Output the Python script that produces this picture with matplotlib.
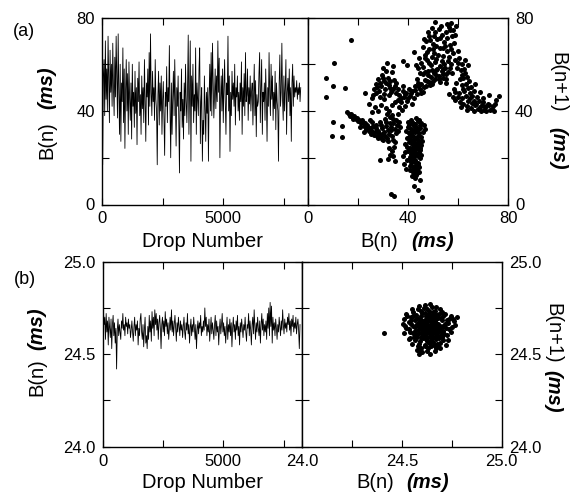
import numpy as np
import matplotlib
matplotlib.use("Agg")
import matplotlib.pyplot as plt

plt.rcParams['font.family'] = ['Liberation Sans', 'DejaVu Sans']

# ---------------- data ----------------
# (a) time series B(n) in ms (drop 0 .. ~8200)
B_a = [48, 17, 55, 62, 38, 70, 45, 58, 40, 72, 52, 35, 66, 48, 60, 42, 69, 50, 38, 63, 46, 72,
       55, 37, 73, 48, 30, 60, 27, 52, 44, 67, 35, 58, 24, 49, 62,
       40, 56, 30, 61, 45, 36, 52, 28, 60, 42, 48, 33, 57, 39, 50,
       25.6, 54, 44, 61, 38, 47, 30, 55, 41, 50, 35, 62, 43, 27, 52,
       46, 58, 34, 65, 42, 73, 48, 38, 57, 44, 50, 36, 62, 45, 40,
       17, 47, 57, 34, 52, 40, 55, 30, 45, 52.6, 38, 21, 48, 42, 59,
       35, 50, 44, 68, 40, 20, 52, 30, 46, 57, 38, 62, 44, 25, 50,
       42, 55, 36, 13.5, 48, 40, 58, 33, 45, 28, 52, 38, 60, 44, 35,
       50, 72.5, 30, 48, 70, 18.5, 55, 42, 60, 35, 47, 40, 67, 30, 52,
       45, 38, 58, 67, 26, 44, 50, 18.5, 36, 30, 55, 42, 27, 48, 39,
       50, 18.5, 46, 60, 40, 65, 38, 69, 52, 37, 46, 58, 41, 55, 44,
       70, 48, 62.6, 20, 45, 55, 40, 58, 35, 50, 62, 44, 30, 52, 47,
       72, 40, 55, 22.7, 48, 38, 57, 45, 52, 42, 60, 34, 50, 46, 55,
       40, 48, 36, 52, 44, 61, 30, 50, 42, 56, 38, 65, 44, 47, 58,
       36, 50, 43, 55, 40, 48, 52, 34, 46, 60, 38, 53, 29, 47, 42,
       44, 56, 65, 35, 50, 62, 30, 48, 44, 52, 36, 58, 45, 27, 50,
       42, 65, 47, 38, 60, 45, 55, 36, 48, 41, 57, 32, 52, 44, 40,
       18.5, 52, 64, 42, 48, 69, 45, 36, 55, 40, 50, 62, 30, 48, 54,
       44, 58, 38, 50, 27, 52, 60, 42, 55, 46, 50, 48, 53, 45, 50, 47, 52, 44, 50]
last_drop_a = 8200

# (b) time series B(n) in ms
B_b = [24.60, 24.73, 24.66, 24.70, 24.58, 24.72, 24.62, 24.68, 24.55, 24.70, 24.64, 24.59, 24.69, 24.53, 24.66, 24.71, 24.60, 24.67, 24.56, 24.64,
       24.42, 24.63, 24.69, 24.60, 24.66,
       24.62, 24.58, 24.68, 24.64, 24.72, 24.63, 24.66, 24.60, 24.70, 24.65, 24.67, 24.61, 24.69, 24.64, 24.66, 24.59, 24.63, 24.68, 24.62, 24.57, 24.65, 24.70, 24.60, 24.66, 24.63, 24.68, 24.55, 24.64, 24.60, 24.69,
       24.72, 24.62, 24.58, 24.66, 24.54, 24.63, 24.70, 24.56, 24.60, 24.53, 24.65, 24.58, 24.71, 24.62, 24.68, 24.57, 24.73, 24.64, 24.70, 24.60, 24.74, 24.66, 24.72, 24.63, 24.69, 24.58, 24.67, 24.71, 24.64, 24.53,
       24.66, 24.70, 24.62, 24.68, 24.60, 24.73, 24.65, 24.69, 24.61, 24.67, 24.58, 24.64, 24.70, 24.63, 24.74, 24.62, 24.68, 24.60, 24.66, 24.71, 24.64, 24.57, 24.67, 24.62, 24.70, 24.65, 24.60, 24.68, 24.63, 24.66,
       24.59, 24.65, 24.70, 24.62, 24.58, 24.67, 24.63, 24.72, 24.61, 24.66, 24.56, 24.64, 24.69, 24.60, 24.66, 24.62, 24.70, 24.64, 24.58, 24.66, 24.53, 24.63, 24.68, 24.61, 24.67, 24.64, 24.71, 24.60, 24.65, 24.62,
       24.68, 24.63, 24.75, 24.65, 24.70, 24.60, 24.66, 24.62, 24.69, 24.57, 24.64, 24.70, 24.61, 24.67, 24.63, 24.58, 24.66, 24.71, 24.60, 24.68, 24.62, 24.65, 24.55, 24.64, 24.69, 24.61, 24.66, 24.72, 24.62, 24.67,
       24.60, 24.65, 24.56, 24.63, 24.70, 24.58, 24.66, 24.62, 24.69, 24.60, 24.67, 24.54, 24.64, 24.70, 24.62, 24.66, 24.58, 24.68, 24.63, 24.71, 24.60, 24.65, 24.55, 24.67, 24.62, 24.69, 24.64, 24.59, 24.66, 24.63,
       24.70, 24.62, 24.57, 24.66, 24.64, 24.72, 24.60, 24.68, 24.63, 24.55, 24.66, 24.70, 24.61, 24.74, 24.65, 24.58, 24.67, 24.62, 24.70, 24.64, 24.60, 24.68, 24.56, 24.66, 24.72, 24.63, 24.69, 24.60, 24.66, 24.62,
       24.68, 24.58, 24.72, 24.64, 24.75, 24.60, 24.78, 24.65, 24.76, 24.56, 24.70, 24.63, 24.67, 24.60, 24.69, 24.64, 24.58, 24.66, 24.62, 24.70, 24.65, 24.60, 24.68, 24.63, 24.74, 24.66, 24.61, 24.69, 24.64, 24.67,
       24.62, 24.70, 24.66, 24.72, 24.63, 24.68, 24.60, 24.69, 24.65, 24.71, 24.62, 24.67, 24.64, 24.70, 24.61, 24.66, 24.69, 24.63, 24.53, 24.66]
last_drop_b = 8180

# (a) return map points (B(n), B(n+1)) grouped by region
map_a_isolated = [(17.3, 70.4), (10.4, 60.4), (7.3, 54.3), (10.0, 50.5), (7.3, 45.8), (14.9, 49.8),
                  (10.0, 35.1), (9.7, 29.2), (13.7, 33.4), (13.7, 28.7), (22.7, 47.6), (28.7, 19.2),
                  (33.0, 4.3), (34.5, 3.6), (45.7, 3.1), (42.4, 7.8), (44.0, 6.2), (38.1, 61.6), (39.4, 59.7)]
map_a_lowband = [(15.5, 39.5), (16.2, 38.6), (17.0, 38.9), (17.8, 37.5), (18.5, 37.8), (19.2, 36.5), (19.8, 35.6),
                 (20.5, 36.2), (21.0, 34.8), (21.8, 35.1), (22.4, 33.6), (23.0, 32.4), (23.5, 34.0), (24.2, 31.5),
                 (24.8, 32.6), (25.3, 30.2), (25.8, 33.5), (26.4, 29.6), (26.8, 31.2), (27.3, 34.2), (27.8, 28.6),
                 (28.3, 30.5), (28.7, 35.4), (29.2, 29.2), (29.6, 32.6), (30.1, 27.8), (30.5, 31.0), (31.0, 33.6),
                 (31.4, 28.4), (31.9, 27.2), (32.3, 30.1), (32.8, 34.8), (33.3, 31.7), (33.7, 29.4), (34.1, 36.6),
                 (34.6, 32.5), (35.0, 30.4), (31.7, 38.6), (32.5, 40.1), (33.4, 38.2), (30.6, 36.6), (25.5, 35.4),
                 (24.6, 36.2), (22.3, 30.9), (20.8, 33.2), (34.8, 26.8), (35.6, 33.8), (36.2, 35.4),
                 (32.3, 24.2), (33.4, 23.1), (34.2, 24.5), (32.8, 21.2), (33.9, 20.6), (34.6, 18.8), (32.1, 19.6),
                 (37.9, 20.8), (38.5, 17.4), (39.2, 15.1), (38.8, 22.3), (39.6, 19.2),
                 (16.8, 37.8), (18.1, 36.4), (19.6, 37.1), (21.4, 36.0), (22.9, 34.7), (24.0, 33.2), (25.1, 31.7),
                 (26.1, 30.8), (27.1, 32.6), (28.0, 31.5), (29.0, 33.9), (30.0, 30.2), (30.9, 29.1), (32.0, 31.9),
                 (33.0, 33.2), (34.0, 34.7), (35.2, 36.2), (29.7, 28.0), (27.5, 29.4), (33.9, 27.8), (31.2, 35.1),
                 (32.7, 37.3), (35.8, 31.6), (36.8, 33.0)]
map_a_column = [(40.1, 35.2), (41.3, 36.1), (42.6, 34.4), (43.8, 35.6), (45.2, 34.9), (46.3, 33.8), (39.8, 33.1),
                (41.0, 32.4), (42.2, 33.7), (43.5, 31.9), (44.7, 32.8), (45.9, 31.2), (40.5, 30.6), (41.7, 29.8),
                (42.9, 30.9), (44.1, 29.4), (45.3, 28.7), (40.9, 28.1), (42.0, 27.4), (43.2, 28.5), (44.4, 26.9),
                (41.4, 25.8), (42.6, 26.3), (43.7, 24.9), (45.0, 25.6), (40.8, 24.1), (41.9, 23.2), (43.1, 23.8),
                (44.2, 22.4), (41.2, 21.6), (42.4, 20.9), (43.5, 21.3), (44.6, 19.8), (40.6, 19.4), (41.8, 18.6),
                (42.9, 19.1), (44.0, 17.6), (41.3, 17.0), (42.5, 16.2), (43.6, 15.4), (40.9, 14.8), (42.1, 13.9),
                (43.2, 12.8), (44.3, 14.1), (41.6, 12.2), (42.8, 11.3), (44.8, 10.6), (43.9, 16.8), (40.3, 26.7),
                (45.6, 27.3), (39.9, 22.8), (44.9, 23.5), (42.3, 31.6), (43.0, 36.8), (41.5, 34.7), (44.5, 36.3),
                (40.7, 16.5), (45.3, 21.2), (39.5, 28.4), (42.7, 14.6),
                (40.4, 33.9), (41.9, 35.0), (43.3, 33.2), (44.9, 34.1), (41.1, 31.1), (42.8, 32.3), (44.3, 30.7),
                (40.7, 29.3), (42.4, 28.9), (43.9, 27.8), (41.1, 26.9), (42.3, 24.7), (43.4, 26.2), (44.6, 24.2),
                (41.6, 22.3), (42.9, 22.1), (44.0, 20.9), (40.9, 20.3), (42.1, 19.7), (43.3, 17.9), (41.9, 15.3),
                (43.0, 16.7), (42.3, 12.7), (43.7, 13.6), (41.0, 18.0), (44.5, 16.0), (46.6, 32.4), (39.2, 31.5),
                (38.7, 26.0), (39.6, 24.5)]
map_a_midband = [(26.5, 49.2), (27.2, 51.5), (27.9, 53.8), (28.4, 48.6), (29.1, 50.9), (29.6, 55.4), (30.2, 52.7),
                 (30.8, 49.5), (31.3, 57.2), (31.9, 54.1), (32.5, 51.3), (33.1, 48.2), (33.6, 56.5), (34.2, 53.4),
                 (34.8, 50.6), (35.3, 47.7), (28.8, 46.1), (30.5, 45.2), (32.2, 46.8), (26.1, 46.9), (25.4, 45.6),
                 (29.9, 58.6), (31.6, 60.4), (33.8, 59.1),
                 (35.8, 44.6), (36.5, 46.9), (37.1, 43.7), (37.8, 48.4), (38.4, 45.8), (39.0, 47.9), (39.7, 44.2),
                 (40.3, 49.3), (40.9, 46.4), (41.6, 48.7), (42.2, 45.5), (42.8, 50.6), (43.4, 47.2), (44.1, 52.1),
                 (44.7, 49.4), (45.3, 51.6), (45.9, 48.3), (46.6, 53.4), (47.2, 50.7), (47.8, 55.2), (48.4, 52.3),
                 (49.1, 54.6), (49.7, 51.4), (50.3, 56.3), (50.9, 53.7), (51.5, 57.8), (52.2, 55.1), (52.8, 52.4),
                 (53.4, 56.9), (54.1, 54.3), (54.7, 58.2), (55.3, 51.8), (36.2, 41.5), (38.9, 42.1), (41.4, 43.2),
                 (37.4, 40.6), (34.6, 43.8), (35.9, 38.9), (33.4, 42.5),
                 (24.3, 43.1), (26.9, 41.6), (29.3, 42.7), (31.0, 41.1), (28.1, 39.8), (25.7, 39.4),
                 (27.6, 50.3), (28.6, 52.1), (30.0, 54.0), (31.0, 51.9), (32.9, 53.0), (34.0, 49.3), (35.0, 52.1),
                 (36.1, 49.6), (37.3, 45.6), (38.7, 47.2), (40.0, 45.4), (41.2, 47.6), (42.6, 48.8), (43.9, 50.5),
                 (45.0, 47.9), (46.3, 50.2), (47.5, 52.8), (48.8, 51.0), (50.0, 53.0), (51.2, 55.2), (52.5, 53.6),
                 (53.8, 55.8), (55.0, 53.5), (56.0, 56.8), (49.4, 57.4), (46.9, 56.6), (30.4, 47.3), (32.8, 49.8),
                 (27.0, 47.8), (38.0, 50.6)]
map_a_top = [(57.0, 77.6), (56.2, 76.1), (58.1, 74.8), (49.5, 75.3), (50.8, 73.6), (52.3, 74.9), (48.4, 72.2),
             (53.6, 72.5), (55.1, 73.8), (57.4, 71.9), (51.7, 70.8), (47.3, 69.9), (49.9, 68.6), (54.2, 69.4),
             (56.6, 68.3), (58.4, 69.1), (45.8, 67.2), (48.2, 66.5), (52.9, 66.9), (55.5, 65.8), (46.9, 64.1),
             (50.4, 64.6), (53.8, 63.7), (57.8, 64.9), (44.3, 62.5), (47.7, 61.8), (51.2, 62.2), (55.9, 61.4),
             (43.1, 59.6), (45.9, 58.9), (49.3, 59.8), (52.6, 59.2), (56.8, 58.4), (44.6, 56.2), (48.0, 56.9),
             (51.0, 57.6), (54.5, 60.1), (58.6, 61.7), (42.5, 65.1), (46.3, 70.8), (53.1, 76.4), (50.6, 78.2),
             (59.2, 76.2), (43.5, 53.6), (46.1, 55.7), (57.6, 56.1), (55.2, 55.8), (53.9, 67.1),
             (56.6, 74.6), (55.6, 71.2), (52.8, 71.3), (50.2, 71.9), (48.9, 70.3), (51.3, 67.8), (54.8, 67.6),
             (57.1, 66.7), (47.4, 65.4), (49.6, 63.2), (52.1, 64.1), (56.4, 63.3), (45.1, 60.7), (48.5, 60.4),
             (50.8, 60.9), (53.7, 61.5), (57.3, 60.2), (46.6, 62.7), (44.0, 58.4), (54.0, 58.0), (58.9, 72.6),
             (55.4, 77.2), (47.9, 74.0), (50.0, 66.4)]
map_a_right = [(59.8, 65.5), (60.5, 62.8), (61.4, 60.3), (62.2, 58.1), (62.9, 56.4), (61.7, 55.2), (63.6, 54.6),
               (64.4, 52.7), (60.8, 53.5), (65.1, 50.4), (59.1, 52.1), (58.3, 49.6), (60.2, 47.8), (61.9, 49.4),
               (63.2, 46.6), (64.7, 47.9), (66.3, 48.6), (67.5, 46.1), (58.9, 44.6), (60.7, 43.9), (62.1, 42.8),
               (63.8, 44.2), (65.6, 43.5), (66.9, 42.4), (68.2, 44.3), (69.4, 42.7), (70.6, 41.5), (71.8, 43.1),
               (72.7, 40.6), (73.9, 42.0), (75.1, 44.8), (76.3, 46.6), (74.3, 39.8), (71.3, 39.9), (69.8, 45.7),
               (67.9, 40.8), (65.2, 41.2), (61.3, 41.6), (57.9, 45.9), (56.4, 47.2), (59.6, 58.3), (64.1, 59.8),
               (62.6, 61.9), (66.8, 51.6), (68.7, 48.3), (72.3, 46.9), (63.4, 40.5),
               (60.1, 60.4), (61.1, 57.7), (62.0, 54.3), (63.0, 51.6), (61.5, 51.1), (64.0, 49.9), (62.5, 48.4),
               (59.8, 46.0), (61.6, 45.4), (63.5, 42.2), (64.9, 45.4), (66.2, 44.4), (67.3, 43.0), (68.6, 41.9),
               (70.0, 43.9), (71.1, 42.0), (72.4, 42.6), (73.4, 41.0), (74.7, 42.9), (70.3, 40.5), (69.0, 40.0),
               (66.2, 40.2), (58.7, 48.0), (65.7, 46.6)]

# (b) return map points
map_b_cluster = [(24.52, 24.72), (24.55, 24.745), (24.585, 24.76), (24.61, 24.75), (24.64, 24.77), (24.672, 24.755),
                 (24.57, 24.71), (24.60, 24.725), (24.633, 24.735), (24.66, 24.718), (24.69, 24.742), (24.512, 24.69),
                 (24.545, 24.703), (24.59, 24.69), (24.622, 24.705), (24.652, 24.712), (24.683, 24.698), (24.714, 24.72),
                 (24.748, 24.708), (24.775, 24.70), (24.503, 24.662), (24.534, 24.672), (24.563, 24.684), (24.594, 24.66),
                 (24.612, 24.674), (24.643, 24.683), (24.672, 24.671), (24.703, 24.684), (24.731, 24.668), (24.762, 24.681),
                 (24.522, 24.642), (24.553, 24.652), (24.581, 24.632), (24.604, 24.644), (24.632, 24.653), (24.661, 24.641),
                 (24.692, 24.652), (24.722, 24.643), (24.511, 24.612), (24.542, 24.622), (24.572, 24.603), (24.601, 24.614),
                 (24.623, 24.624), (24.652, 24.613), (24.681, 24.621), (24.712, 24.608), (24.744, 24.62), (24.533, 24.583),
                 (24.562, 24.594), (24.591, 24.572), (24.622, 24.582), (24.641, 24.592), (24.672, 24.58), (24.703, 24.593),
                 (24.732, 24.578), (24.551, 24.553), (24.582, 24.542), (24.613, 24.552), (24.634, 24.563), (24.661, 24.548),
                 (24.692, 24.561), (24.72, 24.55), (24.573, 24.522), (24.602, 24.512), (24.631, 24.532), (24.663, 24.52),
                 (24.691, 24.532), (24.584, 24.502), (24.641, 24.503),
                 (24.612, 24.662), (24.623, 24.641), (24.644, 24.664), (24.633, 24.633), (24.653, 24.672), (24.624, 24.692),
                 (24.603, 24.681), (24.662, 24.66), (24.642, 24.622), (24.612, 24.601), (24.674, 24.632), (24.592, 24.643),
                 (24.634, 24.683), (24.652, 24.642), (24.621, 24.612), (24.664, 24.694), (24.583, 24.672), (24.681, 24.661),
                 (24.602, 24.632), (24.644, 24.702), (24.615, 24.722), (24.655, 24.728), (24.595, 24.708), (24.675, 24.712),
                 (24.565, 24.645), (24.705, 24.655), (24.585, 24.615), (24.695, 24.625), (24.625, 24.572), (24.655, 24.592),
                 (24.545, 24.685), (24.735, 24.692), (24.615, 24.545), (24.68, 24.545), (24.555, 24.73), (24.7, 24.73),
                 (24.605, 24.655), (24.615, 24.645), (24.625, 24.665), (24.635, 24.655), (24.645, 24.645), (24.655, 24.655),
                 (24.665, 24.675), (24.627, 24.677), (24.617, 24.685), (24.637, 24.697), (24.647, 24.687), (24.657, 24.697),
                 (24.667, 24.685), (24.677, 24.645), (24.687, 24.635), (24.697, 24.645), (24.607, 24.625), (24.617, 24.635),
                 (24.637, 24.615), (24.647, 24.605), (24.657, 24.625), (24.667, 24.615), (24.677, 24.605), (24.587, 24.655),
                 (24.577, 24.665), (24.567, 24.625), (24.577, 24.595), (24.597, 24.595), (24.607, 24.585), (24.627, 24.595),
                 (24.647, 24.575), (24.657, 24.565), (24.667, 24.595), (24.687, 24.585), (24.697, 24.605), (24.707, 24.625),
                 (24.717, 24.665), (24.727, 24.685), (24.697, 24.695), (24.687, 24.715), (24.667, 24.735), (24.637, 24.715),
                 (24.627, 24.745), (24.597, 24.735), (24.577, 24.695), (24.557, 24.705), (24.547, 24.665), (24.537, 24.635),
                 (24.557, 24.615), (24.567, 24.575), (24.587, 24.555), (24.597, 24.535), (24.627, 24.515), (24.647, 24.545),
                 (24.677, 24.555), (24.707, 24.575), (24.727, 24.605), (24.752, 24.645), (24.767, 24.66), (24.707, 24.705),
                 (24.527, 24.705), (24.517, 24.655), (24.542, 24.585), (24.652, 24.755), (24.617, 24.765), (24.582, 24.745),
                 (24.592, 24.52), (24.672, 24.535), (24.737, 24.635), (24.757, 24.69)]
map_b_outlier = [(24.41, 24.615)]

# ---------------- figure ----------------
W, H = 574, 493
fig = plt.figure(figsize=(W / 100, H / 100), dpi=100)
fig.patch.set_facecolor('white')


def ax_at(x0, y0, x1, y1):
    return fig.add_axes([x0 / W, 1 - y1 / H, (x1 - x0) / W, (y1 - y0) / H])


TICK_FS = 12
LAB_FS = 14.5


def style(ax):
    for s in ax.spines.values():
        s.set_linewidth(1.0)
    ax.tick_params(direction='in', top=True, right=True, left=True, bottom=True,
                   length=5, width=0.8, labelsize=TICK_FS, pad=5)


def labels_every_other(ticks, fmt):
    return [fmt.format(t) if i % 2 == 0 else '' for i, t in enumerate(ticks)]


# panel (a) left
ax1 = ax_at(102, 17.5, 308, 204.5)
ax1.plot(np.linspace(0, last_drop_a, len(B_a)), B_a, color='black', lw=0.6)
ax1.set_xlim(0, 8500)
ax1.set_ylim(0, 80)
xt = [0, 2500, 5000, 7500]
ax1.set_xticks(xt)
ax1.set_xticklabels(['0', '', '5000', ''])
yt = [0, 20, 40, 60, 80]
ax1.set_yticks(yt)
ax1.set_yticklabels(labels_every_other(yt, '{:d}'))
style(ax1)

# panel (a) right
ax2 = ax_at(308, 17.5, 508, 204.5)
pts = map_a_isolated + map_a_lowband + map_a_column + map_a_midband + map_a_top + map_a_right
ax2.scatter([p[0] for p in pts], [p[1] for p in pts], s=13, color='black', linewidths=0)
ax2.set_xlim(0, 80)
ax2.set_ylim(0, 80)
ax2.set_xticks(yt)
ax2.set_xticklabels(labels_every_other(yt, '{:d}'))
ax2.set_yticks(yt)
ax2.set_yticklabels(labels_every_other(yt, '{:d}'))
style(ax2)
ax2.tick_params(labelleft=False, labelright=True)

# panel (b) left
ax3 = ax_at(102.7, 261.7, 302.3, 446.7)
ax3.plot(np.linspace(0, last_drop_b, len(B_b)), B_b, color='black', lw=0.6)
ax3.set_xlim(0, 8275)
ax3.set_ylim(24.0, 25.0)
ax3.set_xticks(xt)
ax3.set_xticklabels(['0', '', '5000', ''])
ytb = [24.0, 24.25, 24.5, 24.75, 25.0]
ax3.set_yticks(ytb)
ax3.set_yticklabels(labels_every_other(ytb, '{:.1f}'))
style(ax3)

# panel (b) right
ax4 = ax_at(302.3, 261.7, 501.7, 446.7)
ptsb = map_b_cluster + map_b_outlier
ax4.scatter([p[0] for p in ptsb], [p[1] for p in ptsb], s=13, color='black', linewidths=0)
ax4.set_xlim(24.0, 25.0)
ax4.set_ylim(24.0, 25.0)
ax4.set_xticks(ytb)
ax4.set_xticklabels(labels_every_other(ytb, '{:.1f}'))
ax4.set_yticks(ytb)
ax4.set_yticklabels(labels_every_other(ytb, '{:.1f}'))
style(ax4)
ax4.tick_params(labelleft=False, labelright=True)


# ---------------- labels ----------------
def ftext(px, py, s, **kw):
    kw.setdefault('fontsize', LAB_FS)
    fig.text(px / W, 1 - py / H, s, ha='center', va='center', **kw)


BI = dict(fontweight='bold', fontstyle='italic')

ftext(24, 31, '(a)', fontsize=13)
ftext(25, 279, '(b)', fontsize=13)

ftext(203, 241, 'Drop Number')
ftext(203, 482, 'Drop Number')

ftext(379, 241, 'B(n)')
ftext(433, 241, '(ms)', **BI)
ftext(375, 482, 'B(n)')
ftext(428, 482, '(ms)', **BI)

ftext(47, 140, 'B(n)', rotation=90)
ftext(47, 88, '(ms)', rotation=90, **BI)
ftext(37, 377, 'B(n)', rotation=90)
ftext(37, 329, '(ms)', rotation=90, **BI)

ftext(558, 82, 'B(n+1)', rotation=270)
ftext(558, 148, '(ms)', rotation=270, **BI)
ftext(553, 333, 'B(n+1)', rotation=270)
ftext(553, 391, '(ms)', rotation=270, **BI)

fig.savefig('out.png', dpi=100, facecolor='white')
